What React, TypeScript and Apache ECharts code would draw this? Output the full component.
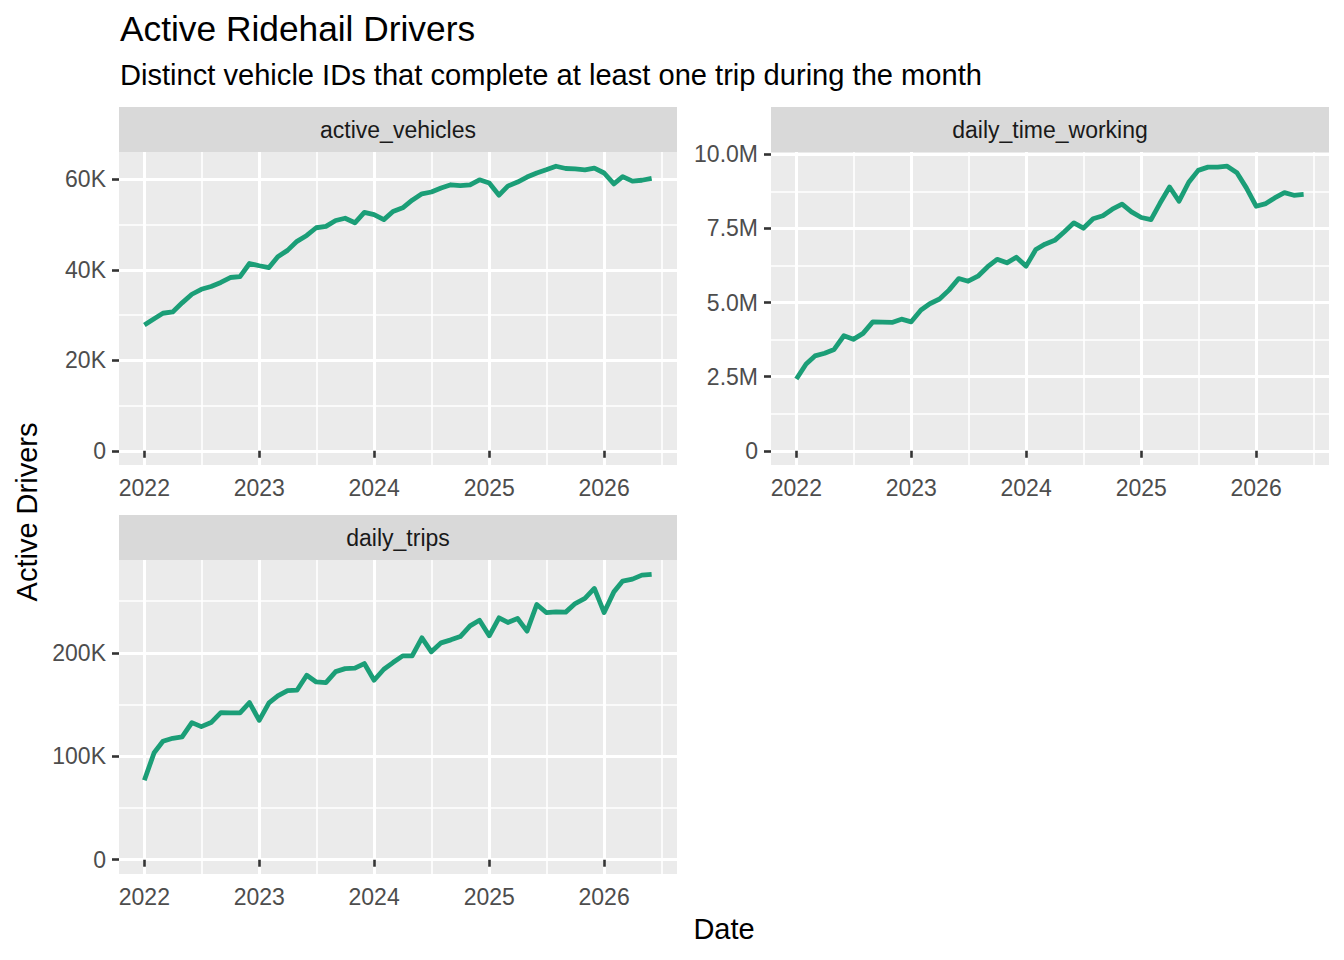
import React, { useEffect, useRef } from "react";
import * as echarts from "echarts";

// ---------- data ----------
const firstMonth = { year: 2022, month: 0 };
const monthCount = 54; // Jan 2022 .. Jun 2026
const months: number[] = [];
for (let i = 0; i < monthCount; i++) months.push(Date.UTC(firstMonth.year, firstMonth.month + i, 1));

const activeVehicles = [
  27800, 29200, 30400, 30700, 32700, 34600, 35700, 36300, 37200, 38300,
  38500, 41400, 40900, 40500, 42900, 44300, 46300, 47600, 49300, 49600,
  50900, 51400, 50400, 52700, 52200, 51100, 52900, 53700, 55400, 56800,
  57200, 58100, 58800, 58600, 58800, 59900, 59200, 56500, 58500, 59400,
  60500, 61400, 62100, 62900, 62400, 62300, 62100, 62500, 61400, 59000,
  60600, 59600, 59800, 60200,
];
const dailyTimeWorking = [
  2420000, 2930000, 3200000, 3290000, 3420000, 3880000, 3760000, 3960000, 4350000, 4340000,
  4330000, 4440000, 4350000, 4750000, 4960000, 5120000, 5420000, 5810000, 5720000, 5890000,
  6210000, 6460000, 6340000, 6530000, 6230000, 6790000, 6970000, 7100000, 7380000, 7690000,
  7510000, 7830000, 7930000, 8150000, 8320000, 8060000, 7870000, 7800000, 8340000, 8900000,
  8420000, 9060000, 9460000, 9570000, 9570000, 9600000, 9380000, 8870000, 8250000, 8340000,
  8530000, 8710000, 8620000, 8650000,
];
const dailyTrips = [
  76800, 103500, 114500, 117400, 118700, 132600, 128700, 132600, 142300, 141900,
  141900, 151900, 134800, 151600, 158400, 163500, 163900, 178400, 171900, 171300,
  181900, 184800, 185200, 189700, 173500, 184200, 190600, 197100, 197100, 214500,
  201000, 209700, 212600, 215800, 226100, 231600, 216500, 233900, 229400, 233200,
  221000, 246800, 239000, 239700, 239400, 247700, 252600, 262300, 239000, 259000,
  269400, 271300, 275200, 276000,
];

const panelNames = ["active_vehicles", "daily_time_working", "daily_trips"];
const tickYears = [2022, 2023, 2024, 2025, 2026];
const minorYears = [2022.5, 2023.5, 2024.5, 2025.5, 2026.5];
const yMajor = [
  [0, 20000, 40000, 60000],
  [0, 2500000, 5000000, 7500000, 10000000],
  [0, 100000, 200000],
];
const yMinor = [
  [10000, 30000, 50000],
  [1250000, 3750000, 6250000, 8750000],
  [50000, 150000, 250000],
];

const titleText = "Active Ridehail Drivers";
const subtitleText = "Distinct vehicle IDs that complete at least one trip during the month";
const xTitle = "Date";
const yTitle = "Active Drivers";

// ---------- layout ----------
const FONT = "'Liberation Sans', Arial, Helvetica, sans-serif";
const grids = [
  { left: 119, top: 152, width: 558, height: 313 },
  { left: 771, top: 152, width: 558, height: 313 },
  { left: 119, top: 560, width: 558, height: 314 },
];
const strips = [
  { x: 119, y: 107, w: 558, h: 45 },
  { x: 771, y: 107, w: 558, h: 45 },
  { x: 119, y: 515, w: 558, h: 45 },
];

function yearToTs(y: number) {
  const yi = Math.floor(y);
  const a = Date.UTC(yi, 0, 1);
  const b = Date.UTC(yi + 1, 0, 1);
  return a + (y - yi) * (b - a);
}

export default function App() {
  const ref = useRef<HTMLDivElement>(null);
  useEffect(() => {
    if (!ref.current) return;
    const chart = echarts.init(ref.current, null, { renderer: "svg" });
    const series = [activeVehicles, dailyTimeWorking, dailyTrips];
    const t0 = months[0];
    const t1 = months[months.length - 1];
    const span = t1 - t0;
    const xMin = t0 - 0.05 * span;
    const xMax = t1 + 0.05 * span;
    const xMajorVals = tickYears.map(yearToTs);
    const xMinorVals = minorYears.map(yearToTs);

    const xAxes: any[] = [];
    const yAxes: any[] = [];
    const seriesOpts: any[] = [];
    const yFormatters = [
      (v: number) => (v === 0 ? "0" : `${Math.round(v / 1000)}K`),
      (v: number) => (v === 0 ? "0" : `${(v / 1e6).toFixed(1)}M`),
      (v: number) => (v === 0 ? "0" : `${Math.round(v / 1000)}K`),
    ];

    grids.forEach((g, gi) => {
      const vals = series[gi];
      const vmax = Math.max(...vals);
      const yMin = -0.05 * vmax;
      const yMax = 1.05 * vmax;
      // major x
      xAxes.push({
        type: "value",
        gridIndex: gi,
        min: xMin,
        max: xMax,
        position: "bottom",
        axisLine: { show: false },
        axisTick: {
          show: true,
          length: 7,
          lineStyle: { color: "#333333", width: 2.6 },
          customValues: xMajorVals,
        },
        axisLabel: {
          show: true,
          customValues: xMajorVals,
          formatter: (v: number) => String(new Date(v).getUTCFullYear()),
          color: "#4D4D4D",
          fontSize: 23,
          fontFamily: FONT,
          margin: 11,
          showMinLabel: true,
          showMaxLabel: true,
        },
        splitLine: { show: true, lineStyle: { color: "#FFFFFF", width: 3 } },
        z: 1,
      });
      // minor x
      xAxes.push({
        type: "value",
        gridIndex: gi,
        min: xMin,
        max: xMax,
        position: "top",
        axisLine: { show: false },
        axisTick: { show: false, customValues: xMinorVals },
        axisLabel: { show: false, customValues: xMinorVals },
        splitLine: { show: true, lineStyle: { color: "#FFFFFF", width: 1.6 } },
        z: 0,
      });
      yAxes.push({
        type: "value",
        gridIndex: gi,
        min: yMin,
        max: yMax,
        position: "left",
        axisLine: { show: false },
        axisTick: {
          show: true,
          length: 7,
          lineStyle: { color: "#333333", width: 2.6 },
          customValues: yMajor[gi],
        },
        axisLabel: {
          show: true,
          customValues: yMajor[gi],
          formatter: yFormatters[gi],
          color: "#4D4D4D",
          fontSize: 23,
          fontFamily: FONT,
          margin: 13,
          showMinLabel: true,
          showMaxLabel: true,
        },
        splitLine: { show: true, lineStyle: { color: "#FFFFFF", width: 3 } },
        z: 1,
      });
      yAxes.push({
        type: "value",
        gridIndex: gi,
        min: yMin,
        max: yMax,
        position: "right",
        axisLine: { show: false },
        axisTick: { show: false, customValues: yMinor[gi] },
        axisLabel: { show: false, customValues: yMinor[gi] },
        splitLine: { show: true, lineStyle: { color: "#FFFFFF", width: 1.6 } },
        z: 0,
      });
      seriesOpts.push({
        type: "line",
        xAxisIndex: gi * 2,
        yAxisIndex: gi * 2,
        data: months.map((t, i) => [t, vals[i]]),
        showSymbol: false,
        symbol: "none",
        lineStyle: { color: "#1B9E77", width: 4.8, join: "round", cap: "butt" },
        itemStyle: { color: "#1B9E77" },
        z: 5,
      });
    });

    const graphics: any[] = [];
    strips.forEach((s, i) => {
      graphics.push({
        type: "rect",
        shape: { x: s.x, y: s.y, width: s.w, height: s.h },
        style: { fill: "#D9D9D9" },
        silent: true,
      });
      graphics.push({
        type: "text",
        x: s.x + s.w / 2,
        y: s.y + s.h / 2,
        style: {
          text: panelNames[i],
          fill: "#1A1A1A",
          fontSize: 23,
          fontFamily: FONT,
          align: "center",
          verticalAlign: "middle",
          textAlign: "center",
          textVerticalAlign: "middle",
        },
        silent: true,
      });
    });
    graphics.push({
      type: "text",
      x: 120,
      y: 28,
      style: {
        text: titleText,
        fill: "#000000",
        fontSize: 35.3,
        fontFamily: FONT,
        align: "left",
        verticalAlign: "middle",
        textAlign: "left",
        textVerticalAlign: "middle",
      },
    });
    graphics.push({
      type: "text",
      x: 120,
      y: 75,
      style: {
        text: subtitleText,
        fill: "#000000",
        fontSize: 29.1,
        fontFamily: FONT,
        align: "left",
        verticalAlign: "middle",
        textAlign: "left",
        textVerticalAlign: "middle",
      },
    });
    graphics.push({
      type: "text",
      x: 724,
      y: 929,
      style: {
        text: xTitle,
        fill: "#000000",
        fontSize: 29,
        fontFamily: FONT,
        align: "center",
        verticalAlign: "middle",
        textAlign: "center",
        textVerticalAlign: "middle",
      },
    });
    graphics.push({
      type: "text",
      x: 27,
      y: 512,
      rotation: Math.PI / 2,
      style: {
        text: yTitle,
        fill: "#000000",
        fontSize: 29,
        fontFamily: FONT,
        align: "center",
        verticalAlign: "middle",
        textAlign: "center",
        textVerticalAlign: "middle",
      },
    });

    chart.setOption({
      animation: false,
      backgroundColor: "#FFFFFF",
      grid: grids.map((g) => ({
        ...g,
        show: true,
        backgroundColor: "#EBEBEB",
        borderWidth: 0,
        containLabel: false,
        outerBoundsMode: "none",
      })),
      xAxis: xAxes,
      yAxis: yAxes,
      series: seriesOpts,
      graphic: graphics,
    });
    return () => chart.dispose();
  }, []);
  return (
    <div
      ref={ref}
      style={{ position: "absolute", left: 0, top: 0, width: 1344, height: 960 }}
    />
  );
}
